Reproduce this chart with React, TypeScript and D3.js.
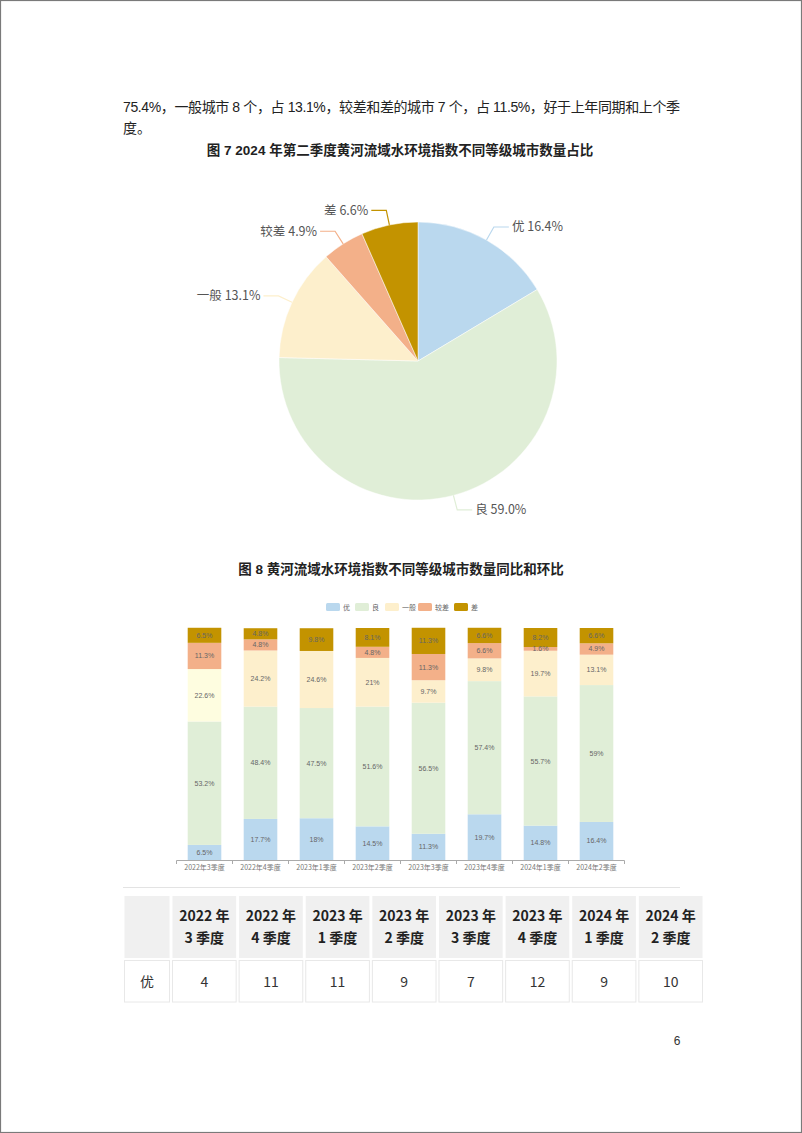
import React from "react";
import * as d3 from "d3";

const pieLabels = ["优", "良", "一般", "较差", "差"];
const pieValues = [16.4, 59.0, 13.1, 4.9, 6.6];

const quarters = ["2022年3季度", "2022年4季度", "2023年1季度", "2023年2季度", "2023年3季度", "2023年4季度", "2024年1季度", "2024年2季度"];
const seriesNames = ["优", "良", "一般", "较差", "差"];
const youVals = [6.5, 17.7, 18, 14.5, 11.3, 19.7, 14.8, 16.4];
const liangVals = [53.2, 48.4, 47.5, 51.6, 56.5, 57.4, 55.7, 59];
const yibanVals = [22.6, 24.2, 24.6, 21, 9.7, 9.8, 19.7, 13.1];
const jiaochaVals = [11.3, 4.8, 0, 4.8, 11.3, 6.6, 1.6, 4.9];
const chaVals = [6.5, 4.8, 9.8, 8.1, 11.3, 6.6, 8.2, 6.6];

const tableHeadTop = ["2022 年", "2022 年", "2023 年", "2023 年", "2023 年", "2023 年", "2024 年", "2024 年"];
const tableHeadBottom = ["3 季度", "4 季度", "1 季度", "2 季度", "3 季度", "4 季度", "1 季度", "2 季度"];
const tableRowLabel = "优";
const tableRowValues = [4, 11, 11, 9, 7, 12, 9, 10];

const COLORS = ["#bad8ee", "#e0eed7", "#fdefcc", "#f3b089", "#c39300"];
const FIRST_BAR_YIBAN = "#fefde0";
const FONT = "'Liberation Sans', 'Noto Sans CJK SC', sans-serif";
const CJK = "'Noto Sans CJK SC', 'Liberation Sans', sans-serif";

export default function App() {
  // Pie
  const cx = 418, cy = 361, R = 139;
  const pie = d3.pie<number>().sort(null).value((d) => d).startAngle(0).endAngle(2 * Math.PI);
  const arcs = pie(pieValues);
  const arcGen = d3.arc<d3.PieArcDatum<number>>().innerRadius(0).outerRadius(R);
  const pt = (a: number, r: number) => [cx + Math.sin(a) * r, cy - Math.cos(a) * r];

  // Bars
  const series = [youVals, liangVals, yibanVals, jiaochaVals, chaVals];
  const x = d3.scaleBand<string>().domain(quarters).range([176.5, 624.5]).paddingInner(0.4).paddingOuter(0.2);
  const xAxis = d3.scaleBand<string>().domain(quarters).range([176.5, 624.5]).padding(0);
  const y = d3.scaleLinear().domain([0, 100]).range([860, 628]);
  const stack = quarters.map((q, i) => {
    let acc = 0;
    return series.map((s, k) => {
      const v = s[i];
      const seg = { k, v, y0: acc, y1: acc + v };
      acc += v;
      return seg;
    });
  });

  // Table
  const tx = d3.scaleBand<string>().domain(quarters).range([171, 704]);

  const legendX = [326, 355, 385, 418, 454];

  return (
    <svg width={802} height={1133} style={{ position: "absolute", left: 0, top: 0, background: "#fff" }}>
      <rect x={0.5} y={0.5} width={801} height={1132} fill="#fff" stroke="#7a7a7a" strokeWidth={1.2} />

      <text x={123} y={112} fontSize={14} fontFamily={FONT} fill="#222" textLength={557} lengthAdjust="spacing">
        75.4%，一般城市 8 个，占 13.1%，较差和差的城市 7 个，占 11.5%，好于上年同期和上个季
      </text>
      <text x={123} y={133} fontSize={14} fontFamily={FONT} fill="#222">度。</text>
      <text x={400} y={155} fontSize={13.5} fontFamily={FONT} fontWeight="bold" fill="#222" textAnchor="middle">
        图  7 2024 年第二季度黄河流域水环境指数不同等级城市数量占比
      </text>

      {arcs.map((a, i) => (
        <path key={i} d={arcGen(a) || ""} transform={`translate(${cx},${cy})`} fill={COLORS[i]} stroke="#fff" strokeWidth={0.5} />
      ))}
      {arcs.map((a, i) => {
        const mid = (a.startAngle + a.endAngle) / 2;
        const p0 = pt(mid, R);
        const p1 = pt(mid, R + 15);
        const right = mid < Math.PI;
        const p2 = [p1[0] + (right ? 15 : -15), p1[1]];
        return (
          <g key={"l" + i}>
            <polyline points={`${p0[0]},${p0[1]} ${p1[0]},${p1[1]} ${p2[0]},${p2[1]}`} fill="none" stroke={COLORS[i]} strokeWidth={1.2} />
            <text x={p2[0] + (right ? 3 : -3)} y={p1[1] + 4.5} fontSize={12.5} fontFamily={CJK} fill="#555" textAnchor={right ? "start" : "end"}>
              {pieLabels[i]} {pieValues[i].toFixed(1)}%
            </text>
          </g>
        );
      })}

      <text x={401} y={574} fontSize={13.5} fontFamily={FONT} fontWeight="bold" fill="#222" textAnchor="middle">
        图  8  黄河流域水环境指数不同等级城市数量同比和环比
      </text>

      {seriesNames.map((n, i) => (
        <g key={"lg" + i}>
          <rect x={legendX[i]} y={603} width={14} height={8} rx={1.5} fill={COLORS[i]} />
          <text x={legendX[i] + 17} y={609.5} fontSize={7} fontFamily={CJK} fill="#666">{n}</text>
        </g>
      ))}

      {stack.map((segs, i) => (
        <g key={"b" + i}>
          {segs.filter((s) => s.v > 0).map((s) => (
            <rect key={s.k} x={x(quarters[i])} width={x.bandwidth()} y={y(s.y1)} height={y(s.y0) - y(s.y1)}
              fill={s.k === 2 && i === 0 ? FIRST_BAR_YIBAN : COLORS[s.k]} />
          ))}
          {segs.filter((s) => s.v > 0).map((s) => (
            <text key={"t" + s.k} x={(x(quarters[i]) || 0) + x.bandwidth() / 2} y={(y(s.y0) + y(s.y1)) / 2 + 2.5}
              fontSize={7} fontFamily={FONT} fill="#666" textAnchor="middle">{s.v}%</text>
          ))}
        </g>
      ))}
      <line x1={176.5} x2={624.5} y1={860.5} y2={860.5} stroke="#aaa" strokeWidth={1} />
      {quarters.map((q) => (
        <line key={"tk" + q} x1={(xAxis(q) || 0)} x2={(xAxis(q) || 0)} y1={860.5} y2={864} stroke="#aaa" />
      ))}
      <line x1={624.5} x2={624.5} y1={860.5} y2={864} stroke="#aaa" />
      {quarters.map((q) => (
        <text key={"xl" + q} x={(xAxis(q) || 0) + xAxis.bandwidth() / 2} y={870} fontSize={7} fontFamily={CJK} fill="#777" textAnchor="middle">{q}</text>
      ))}

      <line x1={123} x2={680} y1={887.5} y2={887.5} stroke="#e3e3e3" strokeWidth={1} />

      <rect x={124.5} y={896} width={45} height={62} fill="#f0f0f0" />
      {quarters.map((q, i) => (
        <g key={"th" + i}>
          <rect x={(tx(q) || 0) + 1.5} y={896} width={tx.bandwidth() - 3} height={62} fill="#f0f0f0" />
          <text x={(tx(q) || 0) + tx.bandwidth() / 2} y={921} fontSize={14} fontWeight="bold" fontFamily={CJK} fill="#222" textAnchor="middle">{tableHeadTop[i]}</text>
          <text x={(tx(q) || 0) + tx.bandwidth() / 2} y={943} fontSize={14} fontWeight="bold" fontFamily={CJK} fill="#222" textAnchor="middle">{tableHeadBottom[i]}</text>
        </g>
      ))}
      <rect x={124.5} y={960.5} width={45} height={41.5} fill="#fff" stroke="#e8e8e8" />
      <text x={147} y={987} fontSize={14} fontFamily={CJK} fill="#333" textAnchor="middle">{tableRowLabel}</text>
      {quarters.map((q, i) => (
        <g key={"td" + i}>
          <rect x={(tx(q) || 0) + 1.5} y={960.5} width={tx.bandwidth() - 3} height={41.5} fill="#fff" stroke="#e8e8e8" />
          <text x={(tx(q) || 0) + tx.bandwidth() / 2} y={987} fontSize={14} fontFamily={CJK} fill="#333" textAnchor="middle">{tableRowValues[i]}</text>
        </g>
      ))}

      <text x={677} y={1045} fontSize={12} fontFamily={FONT} fill="#333" textAnchor="middle">6</text>
    </svg>
  );
}
